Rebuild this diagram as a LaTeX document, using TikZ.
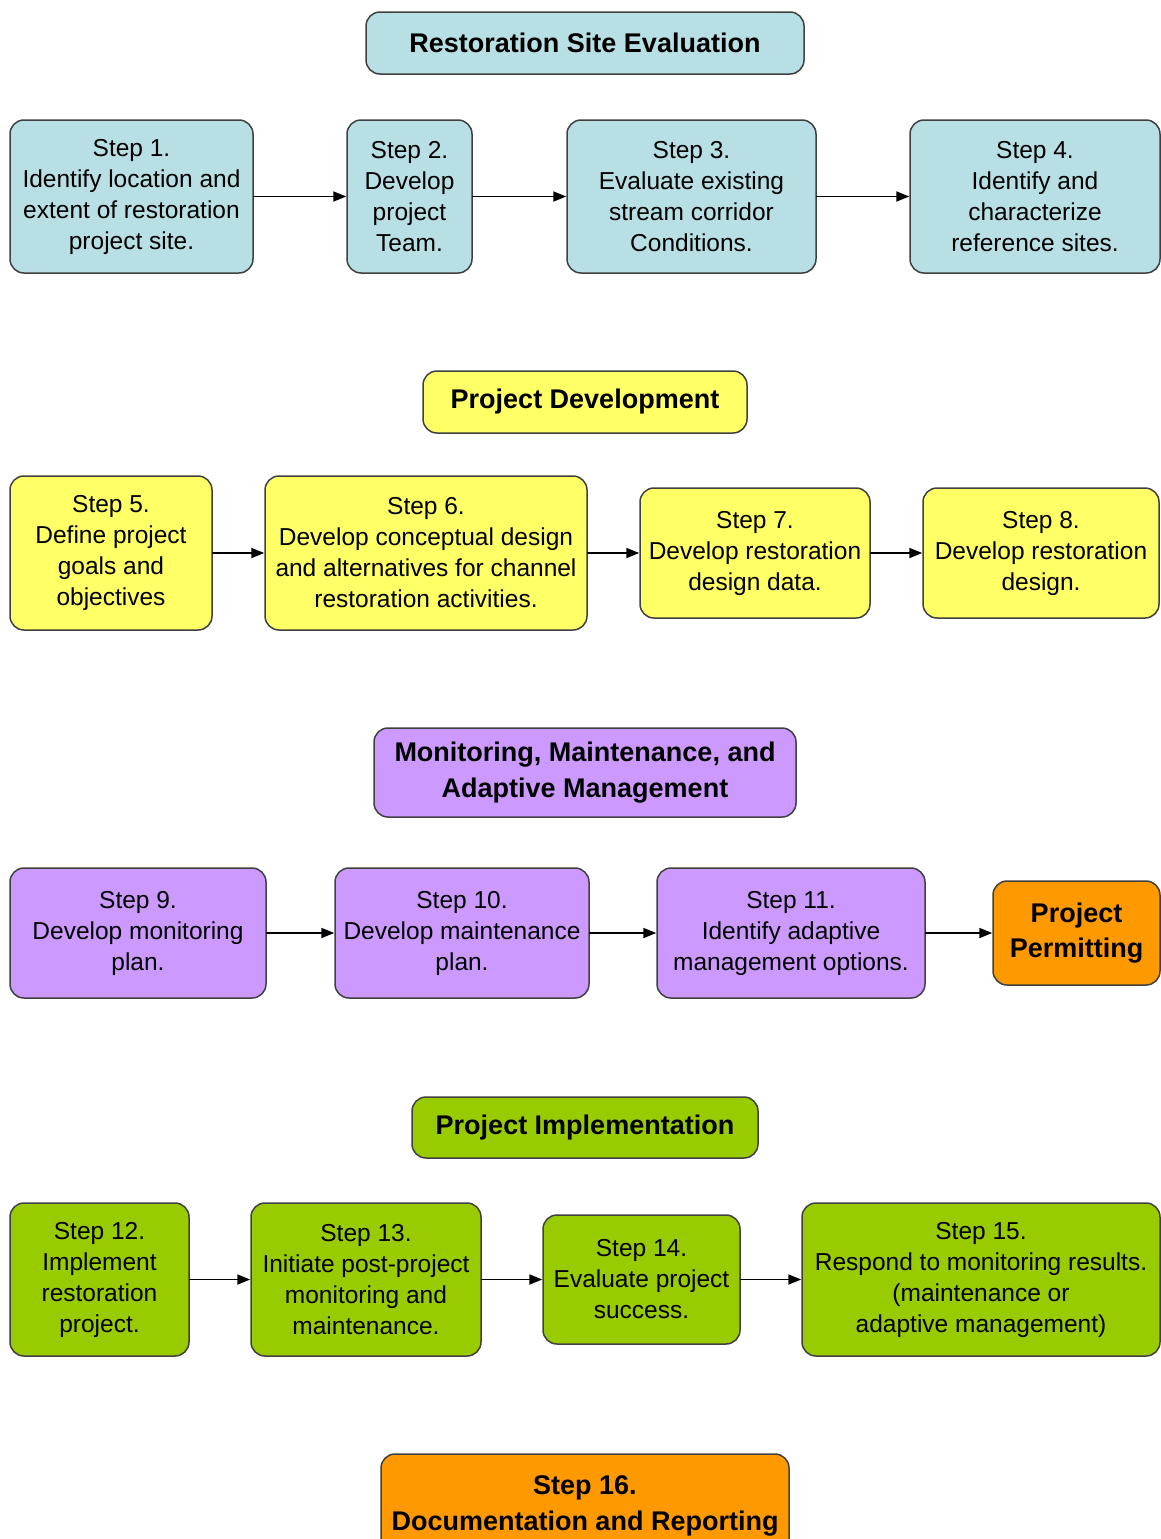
\documentclass[tikz,border=0pt]{standalone}
\usepackage{fontspec}
\setmainfont{Liberation Sans}
\usetikzlibrary{arrows.meta, positioning}
\definecolor{siteblue}{RGB}{184,224,228}
\definecolor{devyellow}{RGB}{255,255,102}
\definecolor{monpurple}{RGB}{204,153,255}
\definecolor{permorange}{RGB}{255,153,0}
\definecolor{implgreen}{RGB}{153,204,0}

\begin{document}
\begin{tikzpicture}[x=1pt, y=-1pt, line cap=round, line join=round,
	box/.style={draw=black!75, line width=1.5pt, rounded corners=14pt, inner sep=0pt, align=center, font=\fontsize{24.5}{31}\selectfont},
	title/.style={box, font=\fontsize{27}{35.5}\selectfont\bfseries},
	flow/.style={-{Triangle[length=13pt,width=10pt]}, line width=1.8pt}]

		% page frame
		\useasboundingbox (0,0) rectangle (1161,1539);

		% restoration site evaluation
		\node[title, fill=siteblue, minimum width=438pt, minimum height=62pt] (t1) at (585,43) {Restoration Site Evaluation};
		\node[box, fill=siteblue, minimum width=243pt, minimum height=153pt] (s1) at (131.5,196.5) {Step 1.\\Identify location and\\extent of restoration\\project site.};
		\node[box, fill=siteblue, minimum width=125pt, minimum height=153pt] (s2) at (409.5,196.5) {Step 2.\\Develop\\project\\Team.};
		\node[box, fill=siteblue, minimum width=249pt, minimum height=153pt] (s3) at (691.5,196.5) {Step 3.\\Evaluate existing\\stream corridor\\Conditions.};
		\node[box, fill=siteblue, minimum width=250pt, minimum height=153pt] (s4) at (1035,196.5) {Step 4.\\Identify and\\characterize\\reference sites.};

		% project development
		\node[title, fill=devyellow, minimum width=324pt, minimum height=62pt] (t2) at (585,402) {Project Development};
		\node[box, fill=devyellow, minimum width=202pt, minimum height=154pt] (s5) at (111,553) {Step 5.\\Define project\\goals and\\objectives};
		\node[box, fill=devyellow, minimum width=322pt, minimum height=154pt] (s6) at (426,553) {Step 6.\\Develop conceptual design\\and alternatives for channel\\restoration activities.};
		\node[box, fill=devyellow, minimum width=230pt, minimum height=130pt] (s7) at (755,553) {Step 7.\\Develop restoration\\design data.};
		\node[box, fill=devyellow, minimum width=236pt, minimum height=130pt] (s8) at (1041,553) {Step 8.\\Develop restoration\\design.};

		% monitoring and maintenance
		\node[title, fill=monpurple, minimum width=422pt, minimum height=89pt] (t3) at (585,772.5) {Monitoring, Maintenance, and\\Adaptive Management};
		\node[box, fill=monpurple, minimum width=256pt, minimum height=130pt] (s9) at (138,933) {Step 9.\\Develop monitoring\\plan.};
		\node[box, fill=monpurple, minimum width=254pt, minimum height=130pt] (s10) at (462,933) {Step 10.\\Develop maintenance\\plan.};
		\node[box, fill=monpurple, minimum width=268pt, minimum height=130pt] (s11) at (791,933) {Step 11.\\Identify adaptive\\management options.};
		\node[title, fill=permorange, minimum width=167pt, minimum height=104pt] (pp) at (1076.5,933) {Project\\Permitting};

		% project implementation
		\node[title, fill=implgreen, minimum width=346pt, minimum height=61pt] (t4) at (585,1127.5) {Project Implementation};
		\node[box, fill=implgreen, minimum width=179pt, minimum height=153pt] (s12) at (99.5,1279.5) {Step 12.\\Implement\\restoration\\project.};
		\node[box, fill=implgreen, minimum width=230pt, minimum height=153pt] (s13) at (366,1279.5) {Step 13.\\Initiate post-project\\monitoring and\\maintenance.};
		\node[box, fill=implgreen, minimum width=197pt, minimum height=129pt] (s14) at (641.5,1279.5) {Step 14.\\Evaluate project\\success.};
		\node[box, fill=implgreen, minimum width=358pt, minimum height=153pt] (s15) at (981,1279.5) {Step 15.\\Respond to monitoring results.\\(maintenance or\\adaptive management)};

		% documentation
		\node[title, fill=permorange, minimum width=408pt, minimum height=104pt] (s16) at (585,1506) {Step 16.\\Documentation and Reporting};

		% arrows
		\draw[flow] (s1) -- (s2);
		\draw[flow] (s2) -- (s3);
		\draw[flow] (s3) -- (s4);
		\draw[flow] (s5) -- (s6);
		\draw[flow] (s6) -- (s7);
		\draw[flow] (s7) -- (s8);
		\draw[flow] (s9) -- (s10);
		\draw[flow] (s10) -- (s11);
		\draw[flow] (s11) -- (pp);
		\draw[flow] (s12) -- (s13);
		\draw[flow] (s13) -- (s14);
		\draw[flow] (s14) -- (s15);
\end{tikzpicture}
\end{document}
